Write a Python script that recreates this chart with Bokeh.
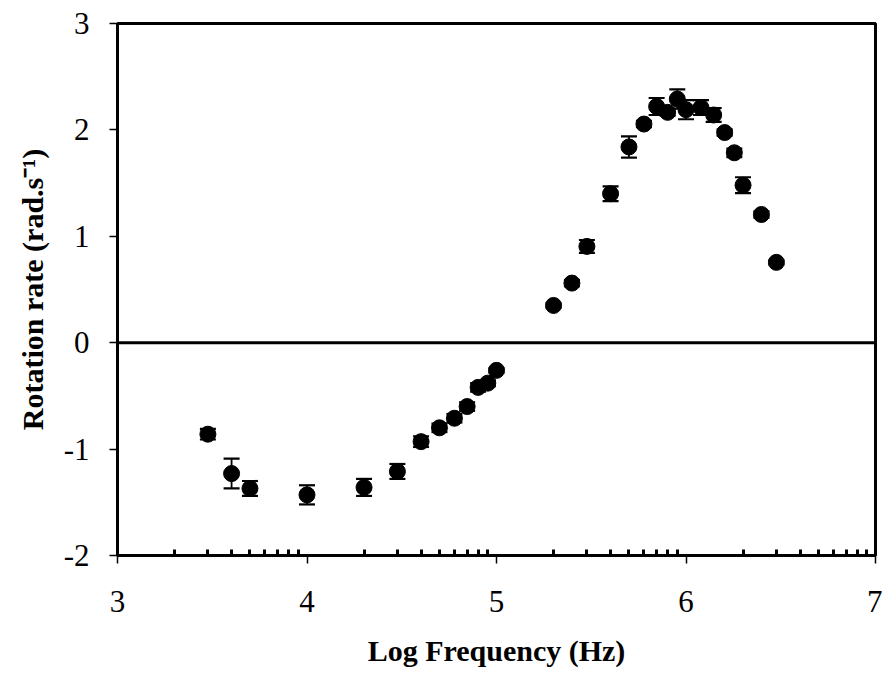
import math
from bokeh.plotting import figure
from bokeh.models import (ColumnDataSource, Range1d, FixedTicker, Whisker, TeeHead, Span)
from bokeh.embed import file_html
from bokeh.resources import INLINE

# Data
log_freq = [3.477, 3.602, 3.699, 4.000, 4.301, 4.477, 4.602, 4.699, 4.778, 4.845,
            4.903, 4.954, 5.000,
            5.301, 5.398, 5.477, 5.602, 5.699, 5.778, 5.845, 5.903, 5.954, 6.000,
            6.079, 6.146, 6.204, 6.255, 6.301, 6.398, 6.477]
rotation = [-0.86, -1.23, -1.37, -1.43, -1.36, -1.21, -0.93, -0.80, -0.71, -0.60,
            -0.42, -0.38, -0.26,
            0.35, 0.56, 0.905, 1.40, 1.84, 2.055, 2.22, 2.165, 2.29, 2.19,
            2.21, 2.14, 1.975, 1.785, 1.48, 1.205, 0.755]
err = [0.05, 0.14, 0.07, 0.09, 0.08, 0.07, 0.05, 0.04, 0.04, 0.04,
       0.04, 0.03, 0.02,
       0.02, 0.03, 0.06, 0.07, 0.10, 0.03, 0.08, 0.03, 0.09, 0.09,
       0.07, 0.065, 0.03, 0.04, 0.075, 0.03, 0.02]

x_ticks = [3, 4, 5, 6, 7]
y_ticks = [-2, -1, 0, 1, 2, 3]
y_tick_labels = ["-2", "-1", "0", "1", "2", "3"]
minor_x = [d + math.log10(k) for d in range(3, 7) for k in range(2, 10)]

src = ColumnDataSource(dict(
    x=log_freq, y=rotation,
    lo=[v - e for v, e in zip(rotation, err)],
    hi=[v + e for v, e in zip(rotation, err)],
))

FONT = "Liberation Serif"

p = figure(width=882, height=672, output_backend="svg", toolbar_location=None,
           x_range=Range1d(3, 7), y_range=Range1d(-2, 3),
           min_border_left=117, min_border_right=7, min_border_top=23, min_border_bottom=117)
p.grid.visible = False
p.outline_line_color = "black"
p.outline_line_width = 3
p.background_fill_color = "white"
p.border_fill_color = "white"

p.xaxis.ticker = FixedTicker(ticks=x_ticks, minor_ticks=minor_x)
p.yaxis.ticker = FixedTicker(ticks=y_ticks)
p.yaxis.major_label_overrides = {t: s for t, s in zip(y_ticks, y_tick_labels)}

for ax in (p.xaxis[0], p.yaxis[0]):
    ax.axis_line_width = 3
    ax.axis_line_color = "black"
    ax.major_tick_line_width = 1.5
    ax.major_tick_line_color = "black"
    ax.major_tick_in = 0
    ax.major_tick_out = 8
    ax.major_label_text_font = FONT
    ax.major_label_text_font_size = "31px"
    ax.major_label_text_color = "black"
    ax.axis_label_text_font = FONT
    ax.axis_label_text_font_style = "bold"
    ax.axis_label_text_font_size = "30px"
    ax.axis_label_text_color = "black"

p.xaxis.minor_tick_in = 6
p.xaxis.minor_tick_out = 0
p.xaxis.minor_tick_line_width = 3
p.xaxis.minor_tick_line_color = "black"
p.yaxis.minor_tick_line_color = None

p.xaxis.major_label_standoff = 27
p.yaxis.major_label_standoff = 20
p.xaxis.axis_label = "Log Frequency (Hz)"
p.yaxis.axis_label = "Rotation rate (rad.s\u207b\u00b9)"
p.xaxis.axis_label_standoff = 19
p.yaxis.axis_label_standoff = 12

p.add_layout(Span(location=0, dimension="width", line_color="black", line_width=3))

w = Whisker(base="x", lower="lo", upper="hi", source=src, dimension="height",
            line_color="black", line_width=1.8)
w.upper_head = TeeHead(size=16, line_color="black", line_width=2.2)
w.lower_head = TeeHead(size=16, line_color="black", line_width=2.2)
p.add_layout(w)

p.scatter("x", "y", source=src, size=16, fill_color="black", line_color="black")

open("out.html", "w").write(file_html(p, INLINE))
